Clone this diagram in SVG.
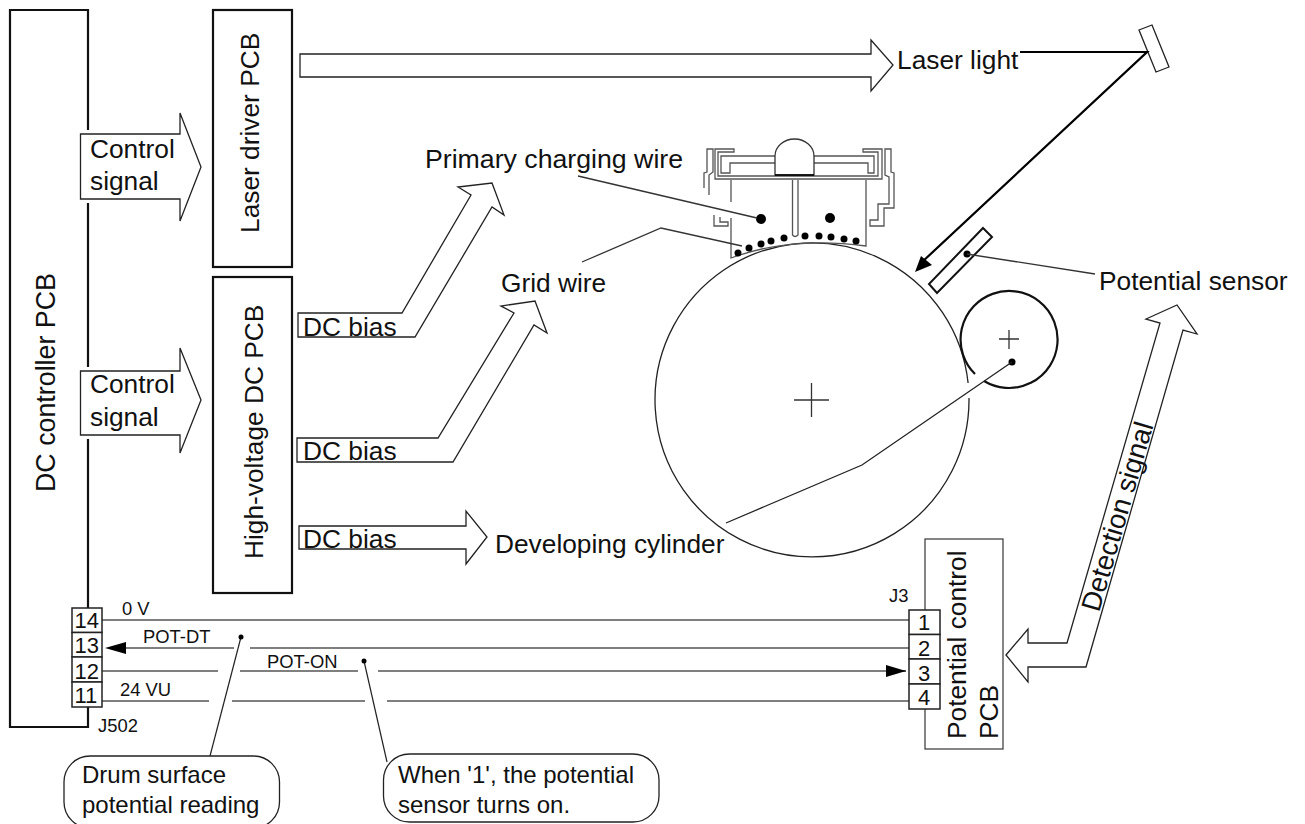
<svg xmlns="http://www.w3.org/2000/svg" width="1305" height="824" viewBox="0 0 1305 824">
<style>
text{font-family:"Liberation Sans",Arial,sans-serif;font-size:26.3px;fill:#111}
.s{font-size:18.4px}
.d{font-size:22px}
.c{font-size:24px}
.b{fill:none;stroke:#111;stroke-width:2.2}
.a{fill:#fff;stroke:#222;stroke-width:1.3;stroke-linejoin:miter}
.w{fill:none;stroke:#333;stroke-width:1.3}
.g{fill:none;stroke:#555;stroke-width:1.3}
.m{fill:#fff;stroke:#222;stroke-width:1.3}
.k{fill:#000}
.bx{fill:#fff;stroke:#222;stroke-width:1.5}
</style>
<rect width="1305" height="824" fill="#fff"/>

<g id="dc-controller">
<path class="b" d="M88,130V10H10V727H88V707M88,203V367M88,439V608"/>
<text transform="translate(55,492) rotate(-90)" style="font-size:26.8px">DC controller PCB</text>
</g>
<g id="laser-driver">
<rect class="b" x="213" y="10" width="79" height="257"/>
<text transform="translate(259,233) rotate(-90)">Laser driver PCB</text>
</g>
<g id="high-voltage">
<rect class="b" x="213" y="277" width="79" height="316"/>
<text transform="translate(262.5,559) rotate(-90)">High-voltage DC PCB</text>
</g>

<g id="drum">
<path fill="none" stroke="#222" stroke-width="1.3" d="M968.1,383A157,157 0 1 0 969,398"/>
<path class="w" d="M794,400H829M811.5,383V417"/>
</g>

<g id="charger">
<path class="g" d="M715,149H734V152H718V176H878V152H863V149H882V179H715Z"/>
<path class="g" d="M775,156H721V173H730V163H775M814,156H874V173H868V163H814"/>
<path d="M775,175V156A19.5,17 0 0 1 814,156V175Z" fill="#fff" stroke="#333" stroke-width="1.3"/>
<path d="M775,175H814" stroke="#000" stroke-width="1.6"/>
<path class="g" d="M731,180V202M731,218V258Q790,236 866,246V180M792.5,180V235Q795,238 798,235V180"/>
<path class="g" d="M704,188V173L707,172V149H713V172L709,175V195"/>
<path class="g" d="M714,215V226H728V222H720V217"/>
<path class="g" d="M885,149H891V172L894,173V208H884V226H870V220H878V204H889V177L885,175Z"/>
<g class="k">
<circle cx="761" cy="219" r="5"/><circle cx="830" cy="218" r="5"/>
<circle cx="738" cy="253" r="3.5"/><circle cx="749" cy="248" r="3.5"/><circle cx="761" cy="244" r="3.5"/><circle cx="771" cy="241" r="3.5"/><circle cx="784" cy="238" r="3.5"/><circle cx="805" cy="236" r="3.5"/><circle cx="819" cy="236" r="3.5"/><circle cx="831" cy="237" r="3.5"/><circle cx="844" cy="239" r="3.5"/><circle cx="856" cy="241" r="3.5"/>
</g>
</g>

<g id="developing-cylinder">
<path fill="none" stroke="#111" stroke-width="2.2" d="M984,381A48.5,48.5 0 1 0 975,374"/>
<path class="w" d="M999,339H1019M1009,330V349"/>
<circle class="k" cx="1012" cy="362" r="3.5"/>
</g>

<g id="mirror"><polygon class="m" points="1139,30 1152,25 1169,67 1156,72"/></g>

<g id="potential-sensor">
<polygon fill="#fff" stroke="#111" stroke-width="2" points="983,228 992,237 937,293 929,284"/>
<circle class="k" cx="967" cy="254" r="3.5"/>
</g>

<g id="potential-control">
<rect x="925" y="539" width="78" height="210" fill="#fff" stroke="#444" stroke-width="1.3"/>
<text transform="translate(966,739) rotate(-90)">Potential control</text>
<text transform="translate(998,739) rotate(-90)">PCB</text>
</g>

<g id="connectors">
<polygon class="a" points="300,54 871,54 871,40 893,65 871,91 871,77 300,77"/>
<polygon class="a" points="80.5,134 180,134 180,113 201,167 180,221 180,199 80.5,199"/>
<polygon class="a" points="80.5,371 180,371 180,348 201,400 180,453 180,435 80.5,435"/>
<polygon class="a" points="298,313 402,313 471,195 458,187 492,183 504,215 492,207 415,337 298,337"/>
<polygon class="a" points="297,438 438,438 514,313 501,306 535,301 547,333 534,325 453,462 297,462"/>
<polygon class="a" points="299,526 466,526 466,511 487,537 466,564 466,549 299,549"/>
<polygon class="a" points="1006,655 1028,629 1028,643 1067,643 1160,323 1146,319 1177,305 1197,334 1183,330 1086,667 1028,667 1028,682"/>

<path d="M1020,52H1147L921,263" fill="none" stroke="#000" stroke-width="2.2"/>
<polygon class="k" points="915,272 921,256 932,265"/>

<path class="w" d="M578,176L757,218"/>
<path class="w" d="M582,262L661,228L742,246"/>
<path class="w" d="M967,254L1095,274"/>
<path d="M1012,362L862,465L726,523" fill="none" stroke="#222" stroke-width="1.3"/>

<path class="g" d="M102,620H909"/>
<path class="g" d="M120,648H234M250,648H909"/>
<path class="g" d="M102,671H218M240,671H358M378,671H890"/>
<path class="g" d="M102,701H209M232,701H365M387,701H909"/>
<polygon class="k" points="105,648 126,642 126,654"/>
<polygon class="k" points="906,671 886,665 886,677"/>
<path d="M890,671H906" stroke="#000" stroke-width="1.3"/>

<path d="M241,637L210,756" fill="none" stroke="#222" stroke-width="1.2"/>
<circle class="k" cx="241" cy="637" r="2.5"/>
<path d="M364,661L387,762" fill="none" stroke="#222" stroke-width="1.2"/>
<circle class="k" cx="364" cy="661" r="2.5"/>
</g>

<g id="j502">
<rect class="bx" x="72" y="608" width="30" height="24.5"/>
<rect class="bx" x="72" y="632.5" width="30" height="24.5"/>
<rect class="bx" x="72" y="657" width="30" height="25"/>
<rect class="bx" x="72" y="682" width="30" height="25"/>
<text class="d" x="74.5" y="628">14</text>
<text class="d" x="74.5" y="653">13</text>
<text class="d" x="74.5" y="679">12</text>
<text class="d" x="74.5" y="703">11</text>
<text class="s" x="98" y="732">J502</text>
</g>
<g id="j3">
<rect class="bx" x="909" y="610" width="31" height="24.5"/>
<rect class="bx" x="909" y="634.5" width="31" height="24.5"/>
<rect class="bx" x="909" y="659" width="31" height="25"/>
<rect class="bx" x="909" y="684" width="31" height="25"/>
<text class="d" x="918" y="630">1</text>
<text class="d" x="918" y="656">2</text>
<text class="d" x="918" y="681">3</text>
<text class="d" x="918" y="705">4</text>
<text class="s" x="889" y="602">J3</text>
</g>

<g id="callout-drum">
<rect x="64" y="756" width="215.5" height="72" rx="26" ry="26" fill="#fff" stroke="#222" stroke-width="1.3"/>
<text class="c" x="82" y="783">Drum surface</text>
<text class="c" x="82" y="813">potential reading</text>
</g>
<g id="callout-sensor">
<rect x="383.5" y="754" width="275.5" height="68" rx="26" ry="26" fill="#fff" stroke="#222" stroke-width="1.3"/>
<text class="c" x="398" y="783">When '1', the potential</text>
<text class="c" x="398" y="813">sensor turns on.</text>
</g>

<g id="labels">
<text x="90" y="158">Control</text>
<text x="90" y="190">signal</text>
<text x="90" y="393">Control</text>
<text x="90" y="426">signal</text>
<text x="303" y="336">DC bias</text>
<text x="303" y="460">DC bias</text>
<text x="303" y="548">DC bias</text>
<text x="897" y="69">Laser light</text>
<text x="425" y="168" style="font-size:26.7px">Primary charging wire</text>
<text x="501" y="292">Grid wire</text>
<text x="495" y="553">Developing cylinder</text>
<text x="1099" y="290">Potential sensor</text>
<text transform="translate(1099,613) rotate(-73.8)" style="font-size:27.5px">Detection signal</text>
<text class="s" x="122" y="615">0 V</text>
<text class="s" x="143" y="643">POT-DT</text>
<text class="s" x="267" y="668">POT-ON</text>
<text class="s" x="120" y="696">24 VU</text>
</g>
</svg>
